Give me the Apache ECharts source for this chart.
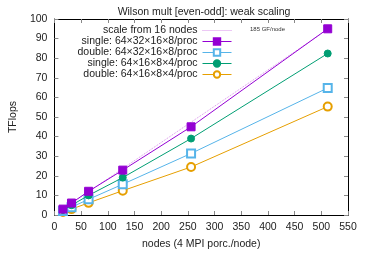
<!DOCTYPE html>
<html><head><meta charset="utf-8">
<script src="https://cdn.jsdelivr.net/npm/echarts@6/dist/echarts.min.js"></script>
<style>html,body{margin:0;padding:0;background:#fff}#c{width:366px;height:255px}</style>
</head><body><div id="c"></div>
<script>
var nodes = [16, 32, 64, 128, 256, 512];
var singleBig = [3.0, 6.1, 12.1, 22.9, 45.0, 95.0];
var doubleBig = [2.0, 4.0, 8.0, 15.7, 31.4, 64.8];
var singleSmall = [2.5, 5.0, 10.0, 19.1, 39.0, 82.4];
var doubleSmall = [1.5, 3.0, 6.2, 12.4, 24.5, 55.3];
var scaleNodes = [16, 512];
var scaleValues = [2.96, 94.72];
var names = ['scale from 16 nodes', 'single: 64×32×16×8/proc', 'double: 64×32×16×8/proc', 'single: 64×16×8×4/proc', 'double: 64×16×8×4/proc'];
var xTicks = {min: 0, max: 550, interval: 50};
var yTicks = {min: 0, max: 100, interval: 10};

function pairs(xs, ys){ return xs.map(function(x,i){ return [x, ys[i]]; }); }
var font = 'Liberation Sans';
var chart = echarts.init(document.getElementById('c'), null, {renderer:'canvas'});
function axisBase(pos, labels){
  return {
    position: pos, type:'value',
    axisLine:{show:true, onZero:false, lineStyle:{color:'#000', width:1}},
    axisTick:{show:true, inside:true, length:4, lineStyle:{color:'#888'}},
    splitLine:{show:false},
    axisLabel:{show:labels, color:'#222', fontFamily:font, fontSize:10.5, margin:7}
  };
}
var xb = Object.assign(axisBase('bottom', true), xTicks, {name:'nodes (4 MPI porc./node)', nameLocation:'middle', nameGap:24, nameTextStyle:{color:'#222', fontFamily:font, fontSize:10.5}});
var xt = Object.assign(axisBase('top', false), xTicks);
var yl = Object.assign(axisBase('left', true), yTicks, {name:'TFlops', nameLocation:'middle', nameGap:31, nameTextStyle:{color:'#222', fontFamily:font, fontSize:10.5}});
var yr = Object.assign(axisBase('right', false), yTicks);
function ser(name, data, color, symbol, size, z){
  return {name:name, type:'line', xAxisIndex:0, yAxisIndex:0, data:data, symbol:symbol, symbolSize:size,
    showAllSymbol:true, lineStyle:{color:color, width:1}, itemStyle:{color:color, borderColor:color, borderWidth:1}, z:z, animation:false};
}
var scaleColor = '#d890ea';
chart.setOption({
  animation:false,
  title:{text:'Wilson mult [even-odd]: weak scaling', left:199, top:2, textAlign:'center',
    textStyle:{fontFamily:font, fontSize:10.5, fontWeight:'normal', color:'#222'}},
  grid:{left:50, right:18, top:19, bottom:33},
  xAxis:[xb, xt],
  yAxis:[yl, yr],
  legend:{orient:'vertical', align:'right', right:134, top:25, padding:0, itemWidth:29, itemHeight:8, itemGap:0,
    lineStyle:{width:1},
    textStyle:{fontFamily:font, fontSize:10.5, color:'#222', lineHeight:10.2},
    data:[{name:names[0], itemStyle:{color:'rgba(0,0,0,0)', borderColor:'rgba(0,0,0,0)', borderWidth:0}, lineStyle:{color:scaleColor, width:1, type:'dotted', opacity:1}}, names[1], names[2], names[3], names[4]]},
  graphic:[{type:'text', left:250, top:26, style:{text:'185 GF/node', font:'6px "Liberation Sans"', fill:'#333'}}],
  series:[
    {name:names[0], type:'line', data:pairs(scaleNodes, scaleValues), symbol:'none', lineStyle:{color:scaleColor, width:1, type:'dotted'}, itemStyle:{color:scaleColor}, z:1},
    ser(names[1], pairs(nodes, singleBig), '#9400d3', 'rect', 8, 5),
    ser(names[2], pairs(nodes, doubleBig), '#56b4e9', 'emptyRect', 8, 3),
    ser(names[3], pairs(nodes, singleSmall), '#009e73', 'circle', 7, 4),
    ser(names[4], pairs(nodes, doubleSmall), '#e69f00', 'emptyCircle', 8, 2)
  ]
});
</script></body></html>
